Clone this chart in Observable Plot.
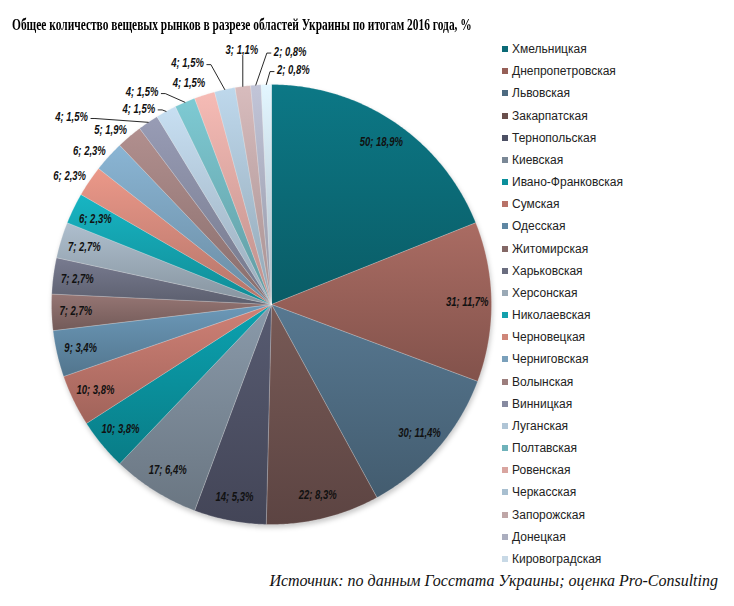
<!DOCTYPE html>
<html><head><meta charset="utf-8">
<script src="https://cdn.jsdelivr.net/npm/d3@7"></script>
<script src="https://cdn.jsdelivr.net/npm/@observablehq/plot@0.6"></script>
<style>
body{margin:0;background:#fff;}
#wrap{position:relative;width:734px;height:606px;overflow:hidden;background:#fff;}
#title{position:absolute;left:12px;top:16px;font:bold 16px "Liberation Serif","Times New Roman",serif;white-space:nowrap;transform-origin:0 0;color:#000;}
#chart{position:absolute;left:0;top:40px;}
#legend{position:absolute;left:0;top:0;font:12px "Liberation Sans",Arial,sans-serif;color:#222;}
.li{position:absolute;white-space:nowrap;height:14px;line-height:14px;}
.sw{position:absolute;left:0;top:4px;width:6px;height:6px;}
.lt{position:absolute;left:10px;top:0;}
#caption{position:absolute;right:16px;top:572px;font:italic 16px "Liberation Serif","Times New Roman",serif;white-space:nowrap;color:#111;}
</style></head>
<body>
<div id="wrap">
  <div id="title">Общее количество вещевых рынков в разрезе областей Украины по итогам 2016 года, %</div>
  <div id="chart"></div>
  <div id="legend"></div>
  <div id="caption">Источник: по данным Госстата Украины; оценка Pro-Consulting</div>
</div>
<script>
// ---- data ----
const regions = ["Хмельницкая","Днепропетровская","Львовская","Закарпатская","Тернопольская","Киевская","Ивано-Франковская","Сумская","Одесская","Житомирская","Харьковская","Херсонская","Николаевская","Черновецкая","Черниговская","Волынская","Винницкая","Луганская","Полтавская","Ровенская","Черкасская","Запорожская","Донецкая","Кировоградская"];
const counts = [50,31,30,22,14,17,10,10,9,7,7,7,6,6,6,5,4,4,4,4,4,3,2,2];
const percents = [18.9,11.7,11.4,8.3,5.3,6.4,3.8,3.8,3.4,2.7,2.7,2.7,2.3,2.3,2.3,1.9,1.5,1.5,1.5,1.5,1.5,1.1,0.8,0.8];
const colors = ["#0b6a76","#965f57","#4d6a80","#6a4f4c","#4d5064","#7a8896","#0a8f9b","#b87268","#5f87a3","#846866","#6a6d7f","#9aa9b6","#14a0ac","#cf8679","#7aa0bb","#9c7e7d","#868aa0","#b0c5d6","#6fb2ba","#d9a5a0","#a8bfd0","#bfa6a7","#abaebf","#c8d9e6"];

// ---- layout ----
const W = 734, H = 526, CX = 271, CY = 264, R = 220;
const INSIDE = 13; // first slices labelled inside
// label nudges (px) for the crowded small slices
const nudges = {
  "Винницкая": {dx:-58, dy:1.5},
  "Луганская": {dx:-9, dy:4},
  "Полтавская": {dx:-25, dy:-3},
  "Ровенская": {dx:2, dy:-4.5, leader:false},
  "Черкасская": {dx:-20, dy:-19},
  "Запорожская": {dx:16, dy:-29},
  "Донецкая": {dx:51, dy:-26},
  "Кировоградская": {dx:43.5, dy:-7}
};

const total = d3.sum(counts);
let cum = 0;
const slices = regions.map((name, i) => {
  const a0 = cum / total * 2 * Math.PI; cum += counts[i];
  const a1 = cum / total * 2 * Math.PI;
  return {name, i, a0, a1, mid: (a0 + a1) / 2};
});
const polar = (a, d) => [d * Math.sin(a), -d * Math.cos(a)];

const piePts = slices.flatMap(s => {
  const n = Math.max(2, Math.ceil((s.a1 - s.a0) / (Math.PI / 360)));
  const pts = [{name: s.name, x: 0, y: 0}];
  for (let k = 0; k <= n; k++) {
    const [x, y] = polar(s.a0 + (s.a1 - s.a0) * k / n, R);
    pts.push({name: s.name, x, y});
  }
  pts.push({name: s.name, x: 0, y: 0});
  return pts;
});

const FS = 12, K = 0.79;
const ctx = document.createElement("canvas").getContext("2d");
ctx.font = `italic bold ${FS}px 'Liberation Sans', Arial, sans-serif`;
const textW = t => ctx.measureText(t).width * K;

const labels = slices.map(s => {
  const text = `${counts[s.i]}; ${percents[s.i].toFixed(1).replace(".", ",")}%`;
  if (s.i < INSIDE) {
    const [x, y] = polar(s.mid, 0.89 * R);
    return {text, x, y, inside: true};
  }
  let [x, y] = polar(s.mid, R + 4); y -= 3;
  const n = nudges[s.name];
  if (n) { x += n.dx; y += n.dy; }
  return {text, x, y, inside: false, leader: !!n && n.leader !== false, edge: polar(s.mid, R), w: textW(text)};
});

const leaders = [];
labels.filter(l => l.leader).forEach((l, j) => {
  const [ex, ey] = l.edge, x1 = l.x, x0 = l.x - l.w;
  let pts;
  if (ex > x1 + 2) pts = [[x1 + 3, l.y + 1], [x1 + 7, l.y + 1], [ex, ey]];
  else if (ex < x0 - 2) pts = [[x0 - 3, l.y + 1], [x0 - 7, l.y + 1], [ex, ey]];
  else pts = [[ex, l.y + 6], [ex, ey]];
  pts.forEach(([x, y]) => leaders.push({id: j, x, y}));
});

const labelFont = {fontSize: FS, fontWeight: "bold", fontStyle: "italic", fontFamily: "'Liberation Sans', Arial, sans-serif", fill: "#111"};
const chart = Plot.plot({
  width: W, height: H, margin: 0,
  x: {domain: [-CX, W - CX], axis: null},
  y: {domain: [-CY, H - CY], reverse: true, axis: null},
  color: {domain: regions, range: colors},
  style: {background: "transparent"},
  marks: [
    Plot.dot([{x: 0, y: 0}], {x: "x", y: "y", r: R, fill: "#000", fillOpacity: 0.22, stroke: "none", dx: 1, dy: 3}),
    Plot.line(piePts, {x: "x", y: "y", z: "name", fill: "name", stroke: "#fff", strokeOpacity: 0.35, strokeWidth: 0.6}),
    Plot.line(leaders, {x: "x", y: "y", z: "id", stroke: "#111", strokeWidth: 0.9}),
    Plot.text(labels.filter(d => d.inside), {x: "x", y: "y", text: "text", textAnchor: "middle", ...labelFont}),
    Plot.text(labels.filter(d => !d.inside), {x: "x", y: "y", text: "text", textAnchor: "end", ...labelFont})
  ]
});
document.getElementById("chart").appendChild(chart);

// gradients + shadow blur
const ns = "http://www.w3.org/2000/svg";
const defs = document.createElementNS(ns, "defs");
chart.appendChild(defs);
const filt = document.createElementNS(ns, "filter");
filt.setAttribute("id", "blur"); filt.setAttribute("x", "-10%"); filt.setAttribute("y", "-10%"); filt.setAttribute("width", "120%"); filt.setAttribute("height", "120%");
const fb = document.createElementNS(ns, "feGaussianBlur"); fb.setAttribute("stdDeviation", "2.5");
filt.appendChild(fb); defs.appendChild(filt);
const sh = chart.querySelector('g[aria-label="dot"]');
if (sh) sh.setAttribute("filter", "url(#blur)");
const lineGroups = chart.querySelectorAll('g[aria-label="line"]');
if (lineGroups[0]) lineGroups[0].querySelectorAll("path").forEach((p, k) => {
  const c = p.getAttribute("fill"); if (!c || c === "none" || c.startsWith("url")) return;
  const g = document.createElementNS(ns, "linearGradient");
  g.setAttribute("id", "sg" + k); g.setAttribute("x1", "0"); g.setAttribute("y1", "0"); g.setAttribute("x2", "0"); g.setAttribute("y2", "1");
  [[0, d3.color(c).brighter(0.35)], [1, d3.color(c).darker(0.4)]].forEach(([o, col]) => {
    const st = document.createElementNS(ns, "stop");
    st.setAttribute("offset", o); st.setAttribute("stop-color", col.formatHex());
    g.appendChild(st);
  });
  defs.appendChild(g);
  p.setAttribute("fill", `url(#sg${k})`);
});
chart.querySelectorAll('g[aria-label="text"] text').forEach(t => {
  const w = t.getComputedTextLength();
  t.setAttribute("textLength", (w * K).toFixed(2));
  t.setAttribute("lengthAdjust", "spacingAndGlyphs");
});

// legend
const legend = document.getElementById("legend");
regions.forEach((name, i) => {
  const row = document.createElement("div");
  row.className = "li";
  row.style.left = "502px";
  row.style.top = (49 + i * 22.17 - 7).toFixed(1) + "px";
  row.innerHTML = `<span class="sw" style="background:${colors[i]}"></span><span class="lt">${name}</span>`;
  legend.appendChild(row);
});

// title width calibration
const title = document.getElementById("title");
const tw = title.getBoundingClientRect().width;
title.style.transform = `scaleX(${(460 / tw).toFixed(3)})`;
</script>
</body></html>
